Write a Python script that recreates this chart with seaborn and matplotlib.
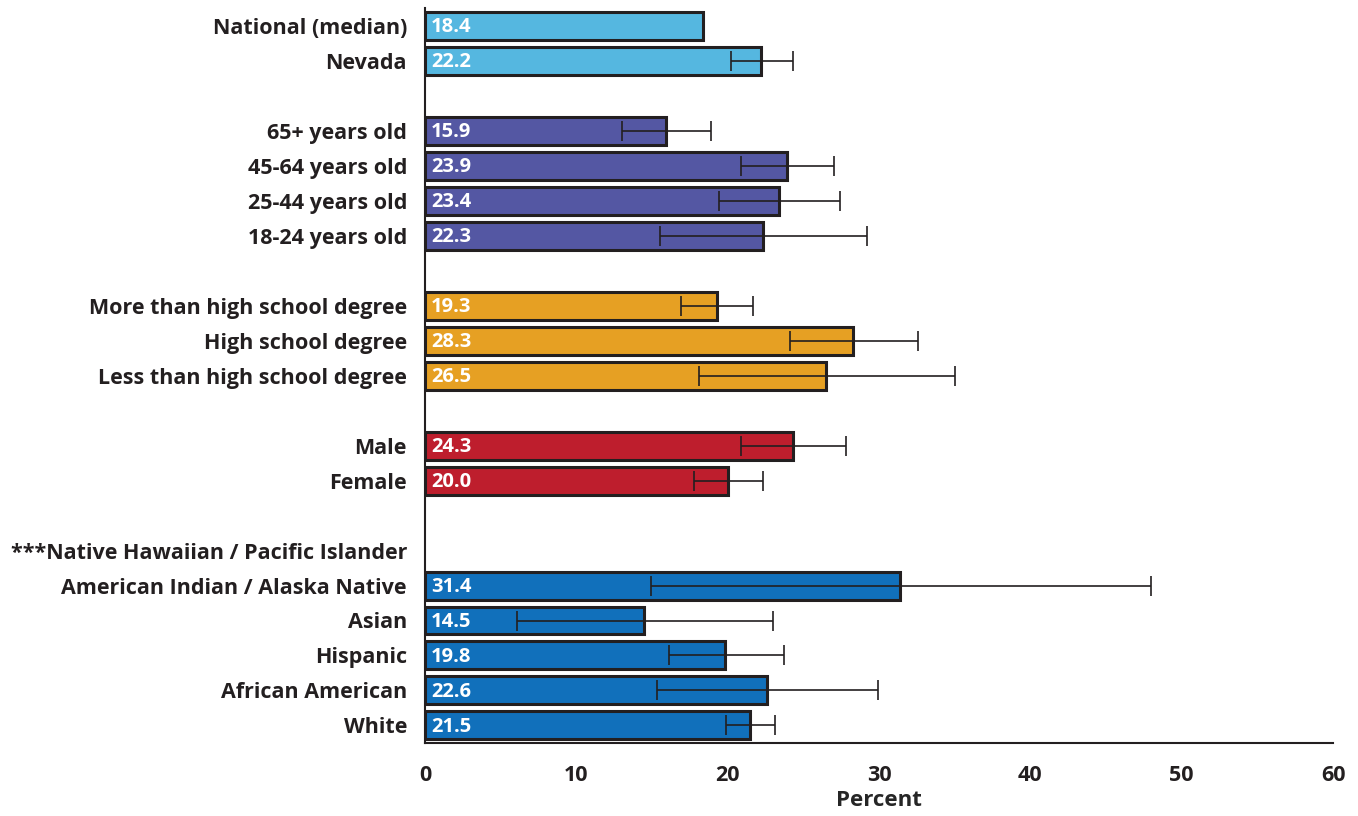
import numpy as np
import pandas as pd
import seaborn as sns
import matplotlib
matplotlib.use("Agg")
import matplotlib.pyplot as plt
from matplotlib.ticker import FixedLocator

# rows top to bottom; blank strings are the gaps between groups
labels = ["National (median)", "Nevada", " ",
          "65+ years old", "45-64 years old", "25-44 years old", "18-24 years old", "  ",
          "More than high school degree", "High school degree", "Less than high school degree", "   ",
          "Male", "Female", "    ",
          "***Native Hawaiian / Pacific Islander", "American Indian / Alaska Native",
          "Asian", "Hispanic", "African American", "White"]
groups = ["state", "state", "gap",
          "age", "age", "age", "age", "gap",
          "edu", "edu", "edu", "gap",
          "sex", "sex", "gap",
          "race", "race", "race", "race", "race", "race"]
values = [18.4, 22.2, np.nan,
          15.9, 23.9, 23.4, 22.3, np.nan,
          19.3, 28.3, 26.5, np.nan,
          24.3, 20.0, np.nan,
          np.nan, 31.4, 14.5, 19.8, 22.6, 21.5]
ci_low = [np.nan, 20.2, np.nan,
          13.0, 20.9, 19.4, 15.5, np.nan,
          16.9, 24.1, 18.1, np.nan,
          20.9, 17.8, np.nan,
          np.nan, 14.9, 6.1, 16.1, 15.3, 19.9]
ci_high = [np.nan, 24.3, np.nan,
           18.9, 27.0, 27.4, 29.2, np.nan,
           21.7, 32.6, 35.0, np.nan,
           27.8, 22.3, np.nan,
           np.nan, 48.0, 23.0, 23.7, 29.9, 23.1]

palette = {"state": "#55b7e0", "age": "#5457a3", "edu": "#e6a023",
           "sex": "#be1e2d", "race": "#1170bb", "gap": "#ffffff"}

df = pd.DataFrame({"label": labels, "group": groups, "value": values,
                   "lo": ci_low, "hi": ci_high})

sns.set_style("white")
plt.rcParams["font.family"] = ["Open Sans", "DejaVu Sans"]

fig = plt.figure(figsize=(13.58, 8.16), dpi=100)
ax = fig.add_axes([0.313, 0.0895, 0.6686, 0.9005])

sns.barplot(data=df, y="label", x="value", hue="group", palette=palette,
            orient="h", dodge=False, width=0.8, edgecolor="#231f20",
            linewidth=2.2, saturation=1, legend=False, ax=ax)

ypos = np.arange(len(df))
m = df["lo"].notna().values
ax.errorbar(df["value"][m], ypos[m],
            xerr=[(df["value"] - df["lo"])[m], (df["hi"] - df["value"])[m]],
            fmt="none", ecolor="#231f20", elinewidth=1.2, capsize=7, capthick=1.2)

for y, v in zip(ypos, df["value"]):
    if not np.isnan(v):
        ax.text(0.4, y + 0.04, f"{v:.1f}", color="white", fontsize=14.5,
                fontweight="bold", va="center", ha="left")

ax.set_xlim(0, 60)
ax.set_ylim(len(df) - 0.5, -0.5)
ax.set_xticks(range(0, 61, 10))
ax.set_xlabel("Percent", fontsize=16, fontweight="bold", labelpad=3)
ax.set_ylabel("")

for s in ["top", "right"]:
    ax.spines[s].set_visible(False)
for s in ["left", "bottom"]:
    ax.spines[s].set_color("#231f20")
    ax.spines[s].set_linewidth(1.5)

ax.tick_params(axis="y", which="major", length=0, pad=13, labelsize=15.5)
ax.yaxis.set_minor_locator(FixedLocator(np.arange(-0.5, len(df), 1)))
ax.tick_params(axis="y", which="minor", length=6, direction="inout",
               width=1.2, color="#231f20")
ax.tick_params(axis="x", length=8, direction="inout", width=1.2,
               color="#231f20", labelsize=15.5, pad=12)
for t in ax.get_yticklabels() + ax.get_xticklabels():
    t.set_fontweight("bold")
    t.set_color("#231f20")

fig.savefig("out.png", dpi=100)
